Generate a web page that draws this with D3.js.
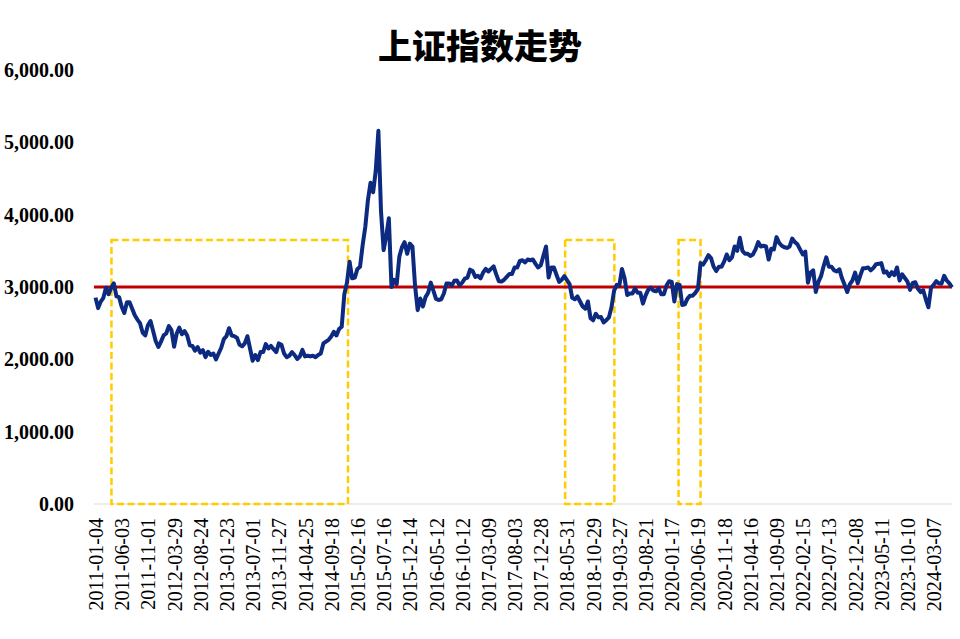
<!DOCTYPE html>
<html><head><meta charset="utf-8">
<script src="https://cdn.jsdelivr.net/npm/d3@7"></script>
<style>body{margin:0;background:#fff}svg{display:block}</style>
</head><body><svg id="c" width="960" height="639"></svg>
<script>
// x-axis category labels (one every 100 trading days)
const tickLabels = ["2011-01-04","2011-06-03","2011-11-01","2012-03-29","2012-08-24","2013-01-23","2013-07-01","2013-11-27","2014-04-25","2014-09-18","2015-02-16","2015-07-16","2015-12-14","2016-05-12","2016-10-12","2017-03-09","2017-08-03","2017-12-28","2018-05-31","2018-10-29","2019-03-27","2019-08-21","2020-01-17","2020-06-19","2020-11-18","2021-04-16","2021-09-09","2022-02-15","2022-07-13","2022-12-08","2023-05-11","2023-10-10","2024-03-07"];
const tickStep = 100;   // trading days between labels
const sampleStep = 10;  // trading days between samples below
// Shanghai Composite close, sampled every 10 trading days from 2011-01-04
const closeValues = [
2853,2708,2799,2850,2990,2900,2990,3050,2870,2860,
2728,2640,2790,2790,2700,2610,2550,2500,2370,2330,
2470,2530,2390,2250,2170,2245,2330,2357,2460,2404,
2174,2357,2438,2346,2390,2330,2195,2185,2120,2170,
2092,2128,2030,2105,2060,2080,2000,2080,2160,2280,
2320,2430,2330,2320,2300,2200,2180,2220,2320,2150,
1980,2060,1990,2100,2100,2210,2150,2185,2140,2100,
2220,2200,2080,2030,2050,2100,2060,2005,2040,2130,
2040,2050,2040,2050,2030,2060,2080,2220,2245,2270,
2315,2380,2330,2420,2450,2900,3060,3350,3120,3130,
3250,3280,3580,3830,4200,4440,4310,4610,5160,4050,
3510,3700,3950,3000,3100,3040,3420,3550,3620,3460,
3600,3560,3020,2680,2840,2730,2860,2920,3060,2950,
2835,2820,2830,2910,3050,3050,3020,3085,3090,3025,
3060,3115,3130,3240,3220,3140,3155,3120,3200,3250,
3215,3250,3285,3175,3080,3075,3100,3140,3180,3180,
3270,3270,3360,3370,3340,3380,3370,3380,3320,3270,
3300,3430,3560,3130,3270,3270,3170,3070,3100,3150,
3095,3040,2850,2830,2870,2800,2730,2700,2800,2570,
2540,2630,2580,2585,2510,2540,2580,2720,2950,3030,
3020,3250,3120,2890,2910,2910,2980,2920,2920,2770,
2880,2960,2990,2950,2940,2980,2900,2900,3020,3080,
3070,2800,3040,3030,2750,2760,2840,2880,2880,2920,
2970,3330,3310,3370,3440,3400,3280,3220,3280,3280,
3350,3450,3370,3410,3560,3500,3680,3500,3460,3460,
3430,3450,3520,3620,3560,3570,3560,3380,3530,3520,
3690,3610,3570,3550,3540,3560,3670,3620,3590,3520,
3450,3490,3060,3200,3230,2930,3070,3150,3290,3410,
3280,3280,3230,3215,3245,3120,3030,2930,3040,3090,
3200,3050,3160,3260,3260,3270,3230,3265,3315,3320,
3330,3200,3215,3150,3205,3165,3270,3090,3175,3125,
3075,2960,3055,3065,2975,2930,2955,2830,2720,2990,
3030,3080,3050,3045,3155,3090,3050,2995
];
const yTicks = [0,1000,2000,3000,4000,5000,6000];
const refLevel = 3000;
// highlighted periods (trading-day index ranges)
const boxStart = [61,1793,2226];
const boxEnd = [964,1981,2310];
const boxTop = 3650;
const titleText = "上证指数走势";

const svg = d3.select("#c");
const lastIdx = (closeValues.length - 1) * sampleStep;
const x = d3.scaleLinear().domain([0, lastIdx]).range([95.5, 952]);
const y = d3.scaleLinear().domain([0, 6000]).range([504, 70]);

svg.append("text").attr("x", 480).attr("y", 59).attr("text-anchor", "middle")
  .style("font-family", "'Noto Sans CJK SC'").style("font-weight", 900)
  .style("font-size", "34px").style("fill", "#000").text(titleText);

// y axis labels
const ya = svg.append("g").attr("transform", "translate(74,0)")
  .call(d3.axisLeft(y).tickValues(yTicks).tickSize(0).tickPadding(0).tickFormat(d3.format(",.2f")));
ya.select(".domain").remove();
ya.selectAll("text").style("font-family", "'Liberation Serif','Times New Roman',serif")
  .style("font-weight", "bold").style("font-size", "20px").style("fill", "#000");

// baseline
svg.append("line").attr("x1", 94).attr("x2", 952).attr("y1", y(0)).attr("y2", y(0))
  .attr("stroke", "#d9d9d9").attr("stroke-width", 1);

// x axis labels
const xa = svg.append("g").attr("transform", `translate(0,${y(0)})`)
  .call(d3.axisBottom(x).tickValues(tickLabels.map((d, i) => i * tickStep)).tickSize(0)
    .tickFormat((d, i) => tickLabels[i]));
xa.select(".domain").remove();
xa.selectAll("text").attr("transform", "rotate(-90)").attr("text-anchor", "end")
  .attr("x", -14).attr("y", 0).attr("dy", "0.35em")
  .style("font-family", "'Liberation Serif','Times New Roman',serif")
  .style("font-size", "20px").style("fill", "#000");

// boxes
svg.selectAll("rect.box").data(boxStart).enter().append("rect").attr("class", "box")
  .attr("x", (d) => x(d)).attr("width", (d, i) => x(boxEnd[i]) - x(d))
  .attr("y", y(boxTop)).attr("height", y(0) - y(boxTop))
  .attr("fill", "none").attr("stroke", "#FFCC00").attr("stroke-width", 2.5)
  .attr("stroke-dasharray", "7,3.5");

// red reference line
svg.append("line").attr("x1", 94).attr("x2", 952).attr("y1", y(refLevel)).attr("y2", y(refLevel))
  .attr("stroke", "#C00000").attr("stroke-width", 3);

// index line
const line = d3.line().x((d, i) => x(i * sampleStep)).y((d) => y(d));
svg.append("path").datum(closeValues).attr("d", line).attr("fill", "none")
  .attr("stroke", "#0B2A80").attr("stroke-width", 4).attr("stroke-linejoin", "round");
</script></body></html>
